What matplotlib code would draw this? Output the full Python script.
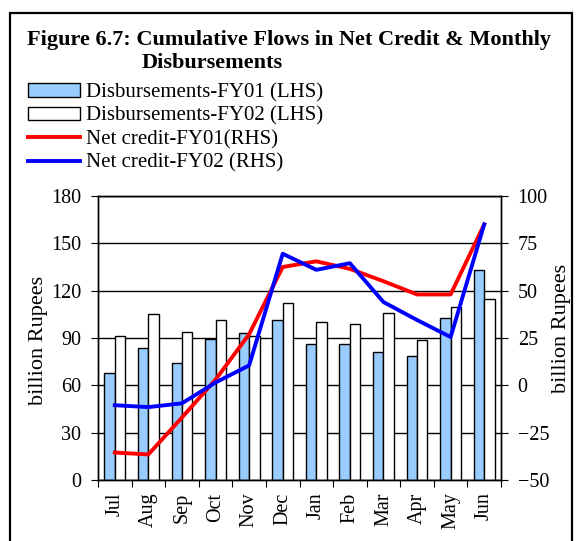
import numpy as np
import matplotlib
matplotlib.use("Agg")
import matplotlib.pyplot as plt
from matplotlib.patches import Patch, Rectangle
from matplotlib.lines import Line2D

plt.rcParams['font.family'] = ['Liberation Serif', 'DejaVu Serif']

months = ['Jul', 'Aug', 'Sep', 'Oct', 'Nov', 'Dec', 'Jan', 'Feb', 'Mar', 'Apr', 'May', 'Jun']
disb_fy01 = [68, 83.5, 74, 89.5, 93, 101.5, 86, 86, 81, 78.5, 102.5, 133]
disb_fy02 = [91, 105, 94, 101.5, 91, 112, 100, 99, 106, 89, 109.5, 114.5]
netcr_fy01 = [-35.5, -36.5, -17, 3, 27, 62.5, 65.5, 61.5, 55, 48, 48, 85]
netcr_fy02 = [-10.5, -11.5, -9.5, 1.5, 10.5, 69.5, 61, 64.5, 44, 34.5, 25.5, 85]

fig = plt.figure(figsize=(5.78, 5.41), dpi=100)

# outer frame of the figure box
fig.patches.append(Rectangle((10 / 578, -0.05), 562 / 578, 1.05 - 13 / 541, transform=fig.transFigure,
                             fill=False, edgecolor='black', linewidth=1.6))

fig.text(27 / 578, 1 - 45 / 541, 'Figure 6.7: Cumulative Flows in Net Credit & Monthly',
         fontsize=16, fontweight='bold', va='baseline', ha='left')
fig.text(212 / 578, 1 - 68 / 541, 'Disbursements',
         fontsize=16, fontweight='bold', va='baseline', ha='center')

ax = fig.add_axes([98 / 578, 61 / 541, 403 / 578, 284 / 541])
x = np.arange(len(months))
w = 0.31
ax.bar(x - w / 2, disb_fy01, w, color='#99ccff', edgecolor='black', linewidth=1, zorder=2)
ax.bar(x + w / 2, disb_fy02, w, color='white', edgecolor='black', linewidth=1, zorder=2)
ax.set_xlim(-0.5, len(months) - 0.5)
ax.set_ylim(0, 180)
ax.set_yticks(np.arange(0, 181, 30))
ax.yaxis.grid(True, color='black', linewidth=1, zorder=0)
ax.set_axisbelow(True)
ax.set_xticks(np.arange(-0.5, len(months), 1))
ax.set_xticklabels([])
ax.set_xticks(x, minor=True)
ax.set_xticklabels(months, minor=True, rotation=90, fontsize=14.5)
ax.tick_params(axis='x', which='minor', length=0, pad=9)
ax.tick_params(axis='x', which='major', length=5, direction='out')
ax.tick_params(axis='y', labelsize=14.5, length=5, direction='out', pad=7)
ax.set_ylabel('billion Rupees', fontsize=16)
ax.yaxis.set_label_coords(-0.124, 0.493)

ax2 = ax.twinx()
ax2.plot(x, netcr_fy01, color='red', linewidth=2.8, zorder=3)
ax2.plot(x, netcr_fy02, color='blue', linewidth=2.8, zorder=3)
ax2.set_ylim(-50, 100)
ax2.set_yticks(np.arange(-50, 101, 25))
ax2.tick_params(axis='y', labelsize=14.5, length=5, direction='out', pad=7)
ax2.set_ylabel('billion Rupees', fontsize=16)
ax2.yaxis.set_label_coords(1.127, 0.535)

for a in (ax, ax2):
    for s in a.spines.values():
        s.set_linewidth(1)

handles = [Patch(facecolor='#99ccff', edgecolor='black', linewidth=1),
           Patch(facecolor='white', edgecolor='black', linewidth=1),
           Line2D([], [], color='red', linewidth=2.8),
           Line2D([], [], color='blue', linewidth=2.8)]
labels = ['Disbursements-FY01 (LHS)', 'Disbursements-FY02 (LHS)',
          'Net credit-FY01(RHS)', 'Net credit-FY02 (RHS)']
fig.legend(handles, labels, loc='upper left', bbox_to_anchor=(24 / 578, 1 - 79 / 541),
           frameon=False, fontsize=15, handlelength=2.5, handleheight=0.6,
           handletextpad=0.3, labelspacing=0.2, borderaxespad=0, borderpad=0.2)

fig.savefig('out.png', dpi=100)
